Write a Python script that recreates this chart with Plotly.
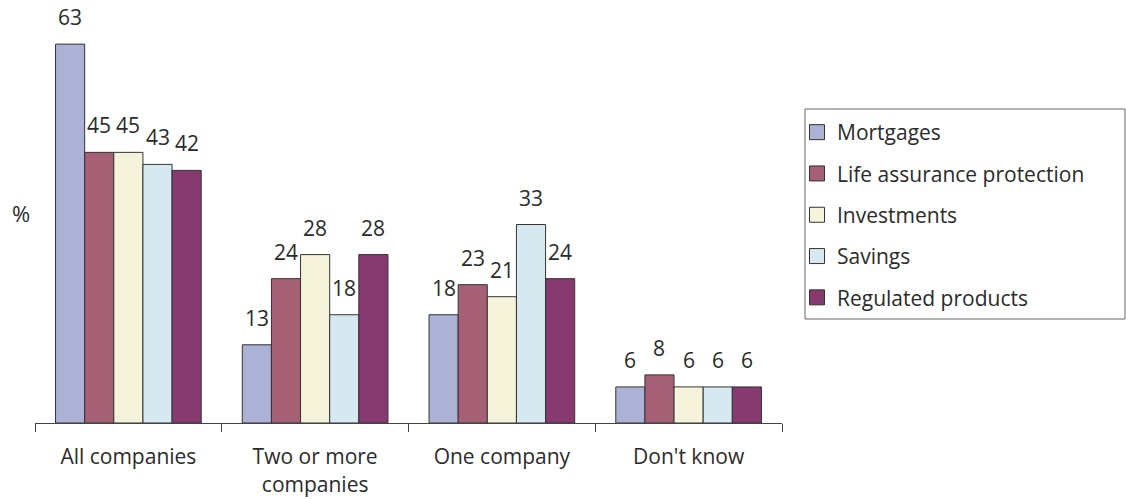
import plotly.graph_objects as go

# Share of respondents (%) by number of companies consulted, per product type
categories = ["All companies", "Two or more<br>companies", "One company", "Don't know"]
series_names = ["Mortgages", "Life assurance protection", "Investments", "Savings", "Regulated products"]
mortgages = [63, 13, 18, 6]
life_assurance = [45, 24, 23, 8]
investments = [45, 28, 21, 6]
savings = [43, 18, 33, 6]
regulated = [42, 28, 24, 6]

series_values = [mortgages, life_assurance, investments, savings, regulated]
colors = ["#ACB2D6", "#A66076", "#F5F3DA", "#D6E9F0", "#873A70"]

BAR_W = 0.156          # width of one bar in category units
FONT = "Open Sans"
TEXT_COLOR = "#2b2b2b"
EDGE = "#333333"

W, H = 1126, 499
ML, MR, MT, MB = 35, 344, 2, 76
plot_h = H - MT - MB
plot_w = W - ML - MR
Y_MAX = 70


def px_x(px):
    return (px - ML) / plot_w


def px_y(px):
    return (H - MB - px) / plot_h


fig = go.Figure()
annotations = []
n = len(series_names)
for j, (name, vals, col) in enumerate(zip(series_names, series_values, colors)):
    xs = [i + (j - (n - 1) / 2) * BAR_W for i in range(len(categories))]
    fig.add_trace(go.Bar(
        x=xs, y=vals, width=BAR_W, name=name, legendgroup=name, showlegend=False,
        marker=dict(color=col, line=dict(color=EDGE, width=1)),
        hoverinfo="y+name",
    ))
    # legend key drawn as a larger square swatch
    fig.add_trace(go.Scatter(
        x=[None], y=[None], mode="markers", name=name, legendgroup=name,
        marker=dict(symbol="square", size=15, color=col, line=dict(color=EDGE, width=1)),
        hoverinfo="skip",
    ))
    for x, v in zip(xs, vals):
        annotations.append(dict(
            x=x, y=v, xref="x", yref="y", text=str(v), showarrow=False,
            yanchor="bottom", yshift=11,
            font=dict(family=FONT, size=21, color=TEXT_COLOR),
        ))

annotations.append(dict(
    x=px_x(21), y=px_y(213), xref="paper", yref="paper", text="%",
    showarrow=False, xanchor="center", yanchor="middle",
    font=dict(family=FONT, size=22, color=TEXT_COLOR),
))

boundaries = [i - 0.5 for i in range(len(categories) + 1)]

fig.update_layout(
    width=W, height=H,
    margin=dict(l=ML, r=MR, t=MT, b=MB, autoexpand=False),
    paper_bgcolor="white", plot_bgcolor="white",
    barmode="overlay",
    font=dict(family=FONT, size=21, color=TEXT_COLOR),
    xaxis=dict(
        range=[-0.5, len(categories) - 0.5],
        tickmode="array", tickvals=list(range(len(categories))), ticktext=categories,
        ticks="", showgrid=False, zeroline=False,
        showline=True, linecolor="#444444", linewidth=1,
        ticklabelstandoff=15,
        tickfont=dict(family=FONT, size=21, color=TEXT_COLOR),
        minor=dict(tickmode="array", tickvals=boundaries, ticks="outside",
                   ticklen=8, tickcolor="#444444", tickwidth=1, showgrid=False),
        fixedrange=True,
    ),
    yaxis=dict(range=[0, Y_MAX], visible=False, fixedrange=True),
    legend=dict(
        x=px_x(797), y=px_y(112), xanchor="left", yanchor="top",
        xref="paper", yref="paper",
        bgcolor="rgba(0,0,0,0)", borderwidth=0,
        tracegroupgap=11, itemclick=False, itemdoubleclick=False,
        font=dict(family=FONT, size=21, color=TEXT_COLOR),
    ),
    shapes=[dict(
        type="rect", xref="paper", yref="paper",
        x0=px_x(805), x1=px_x(1125), y0=px_y(319), y1=px_y(109),
        line=dict(color="#666666", width=1), fillcolor="rgba(0,0,0,0)",
        layer="below",
    )],
    annotations=annotations,
    showlegend=True,
)

fig.write_html("out.html")
